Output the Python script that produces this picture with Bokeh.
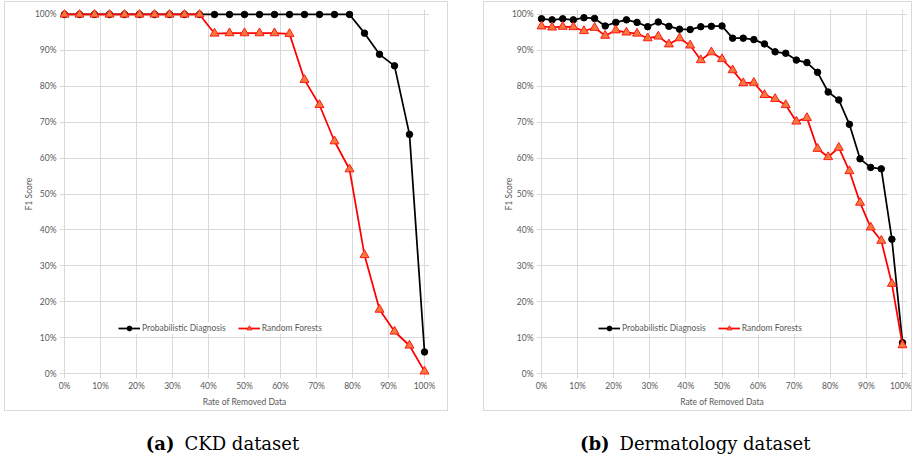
from bokeh.plotting import figure
from bokeh.models import Range1d, Legend, LegendItem, NumeralTickFormatter, FixedTicker, Spacer
from bokeh.layouts import row, column
from bokeh.embed import file_html
from bokeh.resources import INLINE
from bokeh.core.properties import value

# ---------------- data (percent) ----------------
ckd_rate = [0, 4.17, 8.33, 12.5, 16.67, 20.83, 25, 29.17, 33.33, 37.5, 41.67, 45.83, 50,
            54.17, 58.33, 62.5, 66.67, 70.83, 75, 79.17, 83.33, 87.5, 91.67, 95.83, 100]
ckd_prob = [100, 100, 100, 100, 100, 100, 100, 100, 100, 100, 100, 100, 100,
            100, 100, 100, 100, 100, 100, 100, 94.8, 88.9, 85.7, 66.6, 6.0]
ckd_rf = [100, 100, 100, 100, 100, 100, 100, 100, 100, 100, 94.7, 94.8, 94.8,
          94.8, 94.8, 94.6, 81.8, 74.8, 64.7, 56.9, 33.0, 17.8, 11.7, 7.8, 0.6]

derm_rate = [0, 2.94, 5.88, 8.82, 11.76, 14.71, 17.65, 20.59, 23.53, 26.47, 29.41, 32.35,
             35.29, 38.24, 41.18, 44.12, 47.06, 50.0, 52.94, 55.88, 58.82, 61.76, 64.71,
             67.65, 70.59, 73.53, 76.47, 79.41, 82.35, 85.29, 88.24, 91.18, 94.12, 97.06, 100]
derm_prob = [98.8, 98.5, 98.8, 98.5, 99.1, 98.9, 96.8, 97.8, 98.5, 97.8, 96.6, 97.9,
             96.7, 95.9, 95.8, 96.6, 96.7, 96.8, 93.4, 93.4, 93.0, 91.8, 89.6, 89.2,
             87.3, 86.6, 83.9, 78.4, 76.2, 69.4, 59.8, 57.4, 57.0, 37.4, 8.6]
derm_rf = [96.7, 96.4, 96.6, 96.5, 95.4, 96.3, 94.1, 95.6, 95.0, 94.7, 93.4, 93.9,
           91.7, 93.4, 91.4, 87.3, 89.5, 87.6, 84.5, 80.9, 81.0, 77.6, 76.5, 74.8,
           70.2, 71.2, 62.6, 60.3, 62.9, 56.4, 47.6, 40.7, 37.0, 25.0, 7.9]

x_ticks = [0, 10, 20, 30, 40, 50, 60, 70, 80, 90, 100]
y_ticks = [0, 10, 20, 30, 40, 50, 60, 70, 80, 90, 100]
series_labels = ["Probabilistic Diagnosis", "Random Forests"]
x_label = "Rate of Removed Data"
y_label = "F1 Score"
captions = [("(a)", "CKD dataset"), ("(b)", "Dermatology dataset")]

GRID = "#d9d9d9"
TXT = "#595959"
FONT = "Lato"
FS = "8.5px"


def panel(rate, prob, rf, width, height, bl, br, bt, bb, leg_loc, ylab_standoff):
    pad = 5
    fw = width - bl - br
    fh = height - bt - bb
    px = pad / (fw - 2 * pad)
    py = pad / (fh - 2 * pad)
    p = figure(width=width, height=height, output_backend="svg", toolbar_location=None,
               x_range=Range1d(-px, 1 + px), y_range=Range1d(-py, 1 + py),
               min_border_left=bl, min_border_right=br, min_border_top=bt,
               min_border_bottom=bb, background_fill_color="white",
               border_fill_color="white", outline_line_color=None)
    xs = [v / 100 for v in rate]
    ys_p = [v / 100 for v in prob]
    ys_r = [v / 100 for v in rf]

    for ax, ticks, lab in ((p.xaxis[0], x_ticks, x_label), (p.yaxis[0], y_ticks, y_label)):
        ax.ticker = FixedTicker(ticks=[t / 100 for t in ticks])
        ax.formatter = NumeralTickFormatter(format="0%")
        ax.axis_line_color = None
        ax.major_tick_line_color = None
        ax.minor_tick_line_color = None
        ax.major_tick_in = 0
        ax.major_tick_out = 0
        ax.major_label_text_font = FONT
        ax.major_label_text_font_size = FS
        ax.major_label_text_color = TXT
        ax.axis_label = lab
        ax.axis_label_text_font = FONT
        ax.axis_label_text_font_size = FS
        ax.axis_label_text_font_style = "normal"
        ax.axis_label_text_color = TXT
    p.xaxis.major_label_standoff = 2
    p.xaxis.axis_label_standoff = 3
    p.yaxis.major_label_standoff = 3
    p.yaxis.axis_label_standoff = ylab_standoff

    p.xgrid.ticker = FixedTicker(ticks=[t / 100 for t in x_ticks])
    p.ygrid.ticker = FixedTicker(ticks=[t / 100 for t in y_ticks])
    p.grid.grid_line_color = GRID
    p.grid.grid_line_width = 1

    lp = p.line(xs, ys_p, line_color="black", line_width=1.75)
    sp = p.scatter(xs, ys_p, marker="circle", size=6.5, fill_color="black", line_color="black")
    lr = p.line(xs, ys_r, line_color="#ff0000", line_width=1.75)
    sr = p.scatter(xs, ys_r, marker="triangle", size=9, fill_color="#f5793b",
                   line_color="#ff1a1a", line_width=1)

    legend = Legend(items=[LegendItem(label=series_labels[0], renderers=[lp, sp]),
                           LegendItem(label=series_labels[1], renderers=[lr, sr])],
                    location=leg_loc, orientation="horizontal", padding=3, margin=0,
                    spacing=12, glyph_width=22, glyph_height=12, label_standoff=2,
                    label_text_font=FONT, label_text_font_size=FS, label_text_color=TXT,
                    label_height=12, background_fill_color="white", background_fill_alpha=1,
                    border_line_color=None)
    p.add_layout(legend, "center")
    p.styles = {"outline": "1px solid #d9d9d9"}
    return p


pa = panel(ckd_rate, ckd_prob, ckd_rf, 442, 408, 54, 18, 7, 31, (59, 44), -2)
pb = panel(derm_rate, derm_prob, derm_rf, 427, 408, 52, 4, 6, 32, (62, 44), -5)

cap = figure(width=907, height=48, output_backend="svg", toolbar_location=None,
             x_range=Range1d(0, 907), y_range=Range1d(0, 48), x_axis_type=None,
             y_axis_type=None, min_border=0, outline_line_color=None,
             background_fill_alpha=0, border_fill_alpha=0)
cap_x = [(169, 179), (604, 614)]
for (tag, name), (xr, xl) in zip(captions, cap_x):
    cap.text(x=[xr], y=[15], text=[tag], text_font=value("DejaVu Serif"),
             text_font_size="18px", text_font_style="bold", text_align="right",
             text_baseline="alphabetic", text_color="black")
    cap.text(x=[xl], y=[15], text=[name], text_font=value("DejaVu Serif"),
             text_font_size="18px", text_align="left", text_baseline="alphabetic",
             text_color="black")

root = column(row(pa, Spacer(width=37, height=408), pb), cap, margin=(2, 0, 0, 5))

open("out.html", "w").write(file_html(root, INLINE))
